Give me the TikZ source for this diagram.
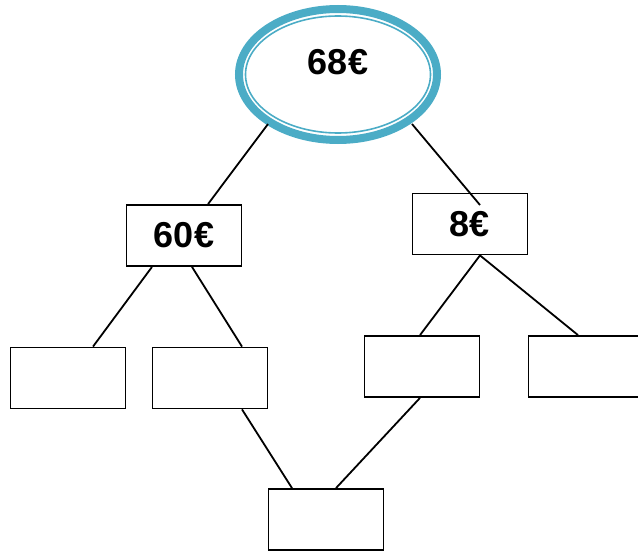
\documentclass[tikz,border=0pt]{standalone}
\usepackage{fontspec}
\setmainfont{Liberation Sans}
\usetikzlibrary{shapes.geometric,calc}
\definecolor{ringblue}{HTML}{4BACC6}

\begin{document}
\begin{tikzpicture}[x=1pt,y=-1pt,
    box/.style={draw, line width=1.8pt, minimum width=115pt, minimum height=61pt, inner sep=0pt,
                font=\fontsize{36}{40}\selectfont\bfseries},
    link/.style={line width=1.8pt}]

\useasboundingbox (0,0) rectangle (638,551);

% Top amount in the double ring
\node [ellipse, draw=ringblue, line width=8pt, minimum width=198pt, minimum height=131pt, inner sep=0pt,
       text depth=25pt, font=\fontsize{36}{40}\selectfont\bfseries] (total) at (338,74.5) {68€};
\draw [ringblue, line width=1.6pt] (total.center) ellipse (92.5 and 58.5);

% Second row
\node [box] (part60) at (184,235.5) {60€};
\node [box] (part8)  at (470,224)   {8€};

% Third row (empty)
\node [box] (leafA) at (68,378)    {};
\node [box] (leafB) at (210,378)   {};
\node [box] (leafC) at (422,366.5) {};
\node [box] (leafD) at (586,366.5) {};

% Bottom (empty)
\node [box] (joint) at (326,519.5) {};

% Connectors
\draw [link] ($(total.center)+(-70,49.5)$) -- ($(part60.north)+(24,0)$);
\draw [link] ($(total.center)+(74,49.5)$)  -- ($(part8.center)+(10,-19)$);

\draw [link] ($(part60.south)+(-32,0)$) -- ($(leafA.north)+(25,0)$);
\draw [link] ($(part60.south)+(8,0)$)   -- ($(leafB.north)+(32,0)$);
\draw [link] ($(part8.south)+(10,0)$)   -- ($(leafC.north)+(-2,0)$);
\draw [link] ($(part8.south)+(10,0)$)   -- ($(leafD.north)+(-8,0)$);

\draw [link] ($(leafB.south)+(32,0)$) -- ($(joint.north)+(-34,0)$);
\draw [link] ($(leafC.south)+(-2,0)$) -- ($(joint.north)+(10,0)$);

\end{tikzpicture}
\end{document}
